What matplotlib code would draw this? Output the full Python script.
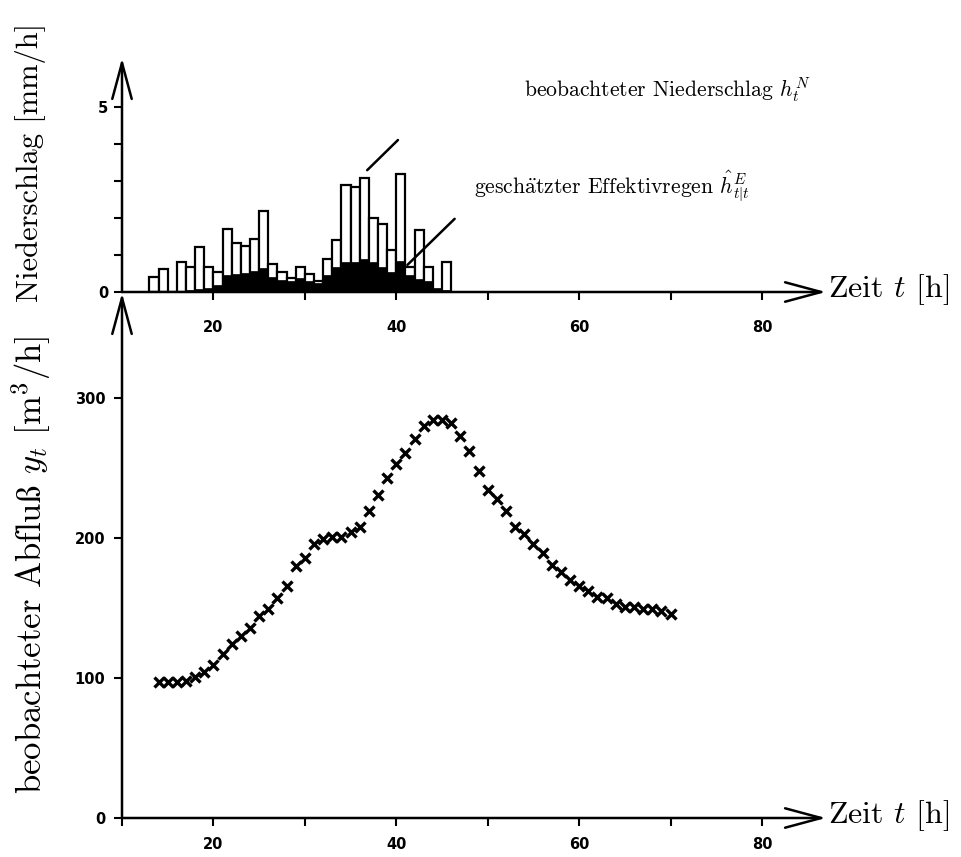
import matplotlib
matplotlib.use("Agg")
import matplotlib.pyplot as plt
import numpy as np

plt.rcParams["font.family"] = ["cmr10", "DejaVu Serif"]
plt.rcParams["mathtext.fontset"] = "cm"
plt.rcParams["axes.unicode_minus"] = False

# hourly rainfall (left edge of each bar, hours)
rain_t = np.arange(13, 46)
rain_obs = [0.40, 0.62, 0.00, 0.81, 0.68, 1.22, 0.68, 0.54, 1.70, 1.33,
            1.24, 1.43, 2.20, 0.75, 0.54, 0.38, 0.68, 0.50, 0.30, 0.89,
            1.40, 2.90, 2.85, 3.07, 2.00, 1.85, 1.13, 3.20, 0.68, 1.68,
            0.68, 0.00, 0.80]
rain_eff = [0.00, 0.00, 0.00, 0.00, 0.05, 0.08, 0.12, 0.20, 0.45, 0.50,
            0.52, 0.58, 0.65, 0.40, 0.32, 0.30, 0.38, 0.30, 0.25, 0.45,
            0.68, 0.80, 0.82, 0.90, 0.80, 0.68, 0.55, 0.85, 0.45, 0.35,
            0.30, 0.10, 0.05]

# observed discharge
flow_t = np.arange(14, 71)
flow = [97, 97, 97, 98, 101, 104, 109, 117, 124, 130,
        136, 144, 149, 157, 166, 180, 186, 196, 199, 201,
        201, 204, 208, 219, 231, 243, 253, 261, 271, 280,
        284, 284, 282, 273, 262, 248, 234, 228, 219, 208,
        203, 196, 189, 181, 176, 170, 166, 162, 158, 157,
        153, 151, 151, 149, 149, 148, 146]

W, H = 961, 857
fig = plt.figure(figsize=(W / 100, H / 100), dpi=100)


def box(x0, y_top, x1, y_bot):
    return [x0 / W, 1 - y_bot / H, (x1 - x0) / W, (y_bot - y_top) / H]


def arrow_axes(ax):
    ax.set_facecolor("none")
    for s in ax.spines.values():
        s.set_visible(False)
    kw = dict(arrowstyle="->,head_length=1.3,head_width=0.35", lw=1.8,
              color="black", shrinkA=0, shrinkB=0, mutation_scale=20)
    ax.annotate("", xy=(1, 0), xytext=(0, 0), xycoords="axes fraction",
                arrowprops=kw, annotation_clip=False)
    ax.annotate("", xy=(0, 1), xytext=(0, 0), xycoords="axes fraction",
                arrowprops=kw, annotation_clip=False)
    ax.tick_params(width=1.5, length=6, direction="out", labelsize=10.5)
    ax.tick_params(which="minor", width=1.5, length=6, direction="out")
    for lab in ax.get_xticklabels() + ax.get_yticklabels():
        lab.set_fontfamily("DejaVu Sans")
        lab.set_fontweight("bold")


x_ticks = [20, 40, 60, 80]

# top panel: rainfall
ax1 = fig.add_axes(box(122, 58, 826, 292))
ax1.bar(rain_t, rain_obs, width=1, align="edge", color="white",
        edgecolor="black", linewidth=1.6, zorder=2)
ax1.bar(rain_t, rain_eff, width=1, align="edge", color="black",
        edgecolor="black", linewidth=0.5, zorder=3)
ax1.set_xlim(10, 87)
ax1.set_ylim(0, (292 - 58) / 37)
ax1.set_xticks(x_ticks)
ax1.set_xticks([30, 50, 70], minor=True)
ax1.set_yticks([0, 1, 2, 3, 4, 5])
ax1.set_yticklabels(["0", "", "", "", "", "5"])
arrow_axes(ax1)
ax1.tick_params(axis="x", pad=14)
ax1.tick_params(axis="y", pad=4)

ax1.annotate("", xy=(36.6, 3.24), xytext=(40.4, 4.16),
             arrowprops=dict(arrowstyle="-", lw=1.8, color="black"),
             annotation_clip=False)
ax1.annotate("", xy=(41.0, 0.68), xytext=(46.6, 2.03),
             arrowprops=dict(arrowstyle="-", lw=1.8, color="black"),
             annotation_clip=False)

# bottom panel: discharge
ax2 = fig.add_axes(box(122, 293, 826, 818))
ax2.plot(flow_t, flow, linestyle="none", marker="x", color="black",
         markersize=7, markeredgewidth=2.4)
ax2.set_xlim(10, 87)
ax2.set_ylim(0, (818 - 293) / 1.4)
ax2.set_xticks(x_ticks)
ax2.set_xticks([10, 30, 50, 70], minor=True)
ax2.set_yticks([0, 100, 200, 300])
arrow_axes(ax2)
ax2.tick_params(axis="x", pad=8)
ax2.tick_params(axis="y", pad=6)

# texts
fs = 15.6
fig.text(828 / W, 1 - 290 / H, "Zeit $t$ [h]", fontsize=23, va="center")
fig.text(828 / W, 1 - 816 / H, "Zeit $t$ [h]", fontsize=23, va="center")
fig.text(31 / W, 1 - 162 / H, "Niederschlag [mm/h]", fontsize=22,
         rotation=90, ha="center", va="center")
fig.text(31 / W, 1 - 565 / H,
         "beobachteter Abflu$\\mathrm{\\ss}$ $y_t$ [m$^3$/h]",
         fontsize=25, rotation=90, ha="center", va="center")
fig.text(524 / W, 1 - 90 / H, "beobachteter Niederschlag $h_t^N$",
         fontsize=fs, va="center")
fig.text(474 / W, 1 - 186 / H,
         "gesch$\\ddot{\\mathrm{a}}$tzter Effektivregen $\\hat{h}^E_{t|t}$",
         fontsize=fs, va="center")

fig.savefig("out.png", dpi=100)
